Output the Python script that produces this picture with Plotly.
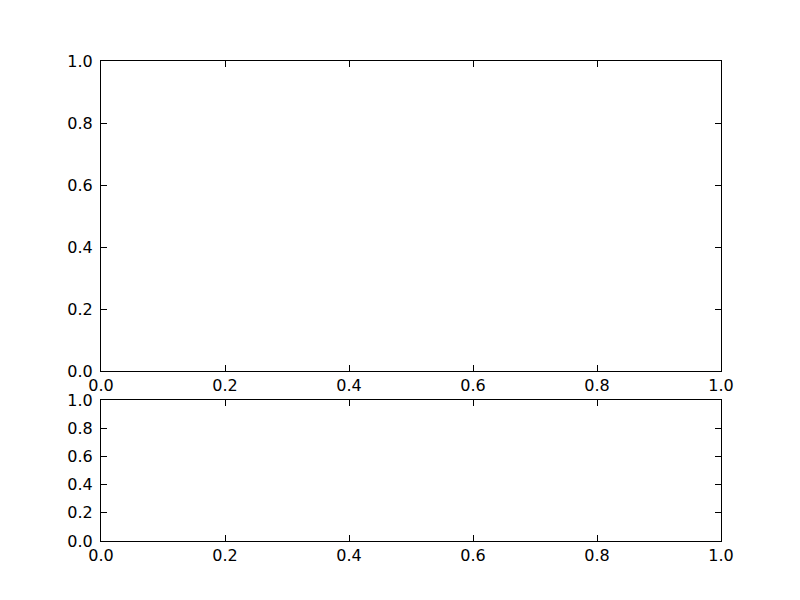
import plotly.graph_objects as go
from plotly.subplots import make_subplots

# two empty axes, both spanning 0..1
x_range = [0, 1]
y_range = [0, 1]
tick_vals = [0.0, 0.2, 0.4, 0.6, 0.8, 1.0]
tick_text = ["0.0", "0.2", "0.4", "0.6", "0.8", "1.0"]

fig = make_subplots(rows=2, cols=1)

# plot area: x 100..720 px, y 60..540 px on screen
# (page body adds ~7px offset, so margins are shifted to compensate)
fig.update_layout(
    width=800, height=600,
    margin=dict(l=93, r=87, t=53, b=67),
    paper_bgcolor="white", plot_bgcolor="white",
    showlegend=False,
    font=dict(family="DejaVu Sans", size=16, color="black"),
    xaxis=dict(domain=[0, 1], anchor="y"),
    yaxis=dict(domain=[1 - 310 / 480, 1], anchor="x"),
    xaxis2=dict(domain=[0, 1], anchor="y2"),
    yaxis2=dict(domain=[0, 141 / 480], anchor="x2"),
)

axis_style = dict(
    tickvals=tick_vals, ticktext=tick_text,
    showgrid=False, zeroline=False,
    showline=True, mirror="ticks", linecolor="black", linewidth=1,
    ticks="inside", ticklen=6, tickcolor="black", tickwidth=1,
)
fig.update_xaxes(range=x_range, ticklabelstandoff=0, **axis_style)
fig.update_yaxes(range=y_range, ticklabelstandoff=4, **axis_style)

# invisible traces so the axes render
fig.add_trace(go.Scatter(x=[], y=[]), row=1, col=1)
fig.add_trace(go.Scatter(x=[], y=[]), row=2, col=1)

fig.write_html("out.html")
